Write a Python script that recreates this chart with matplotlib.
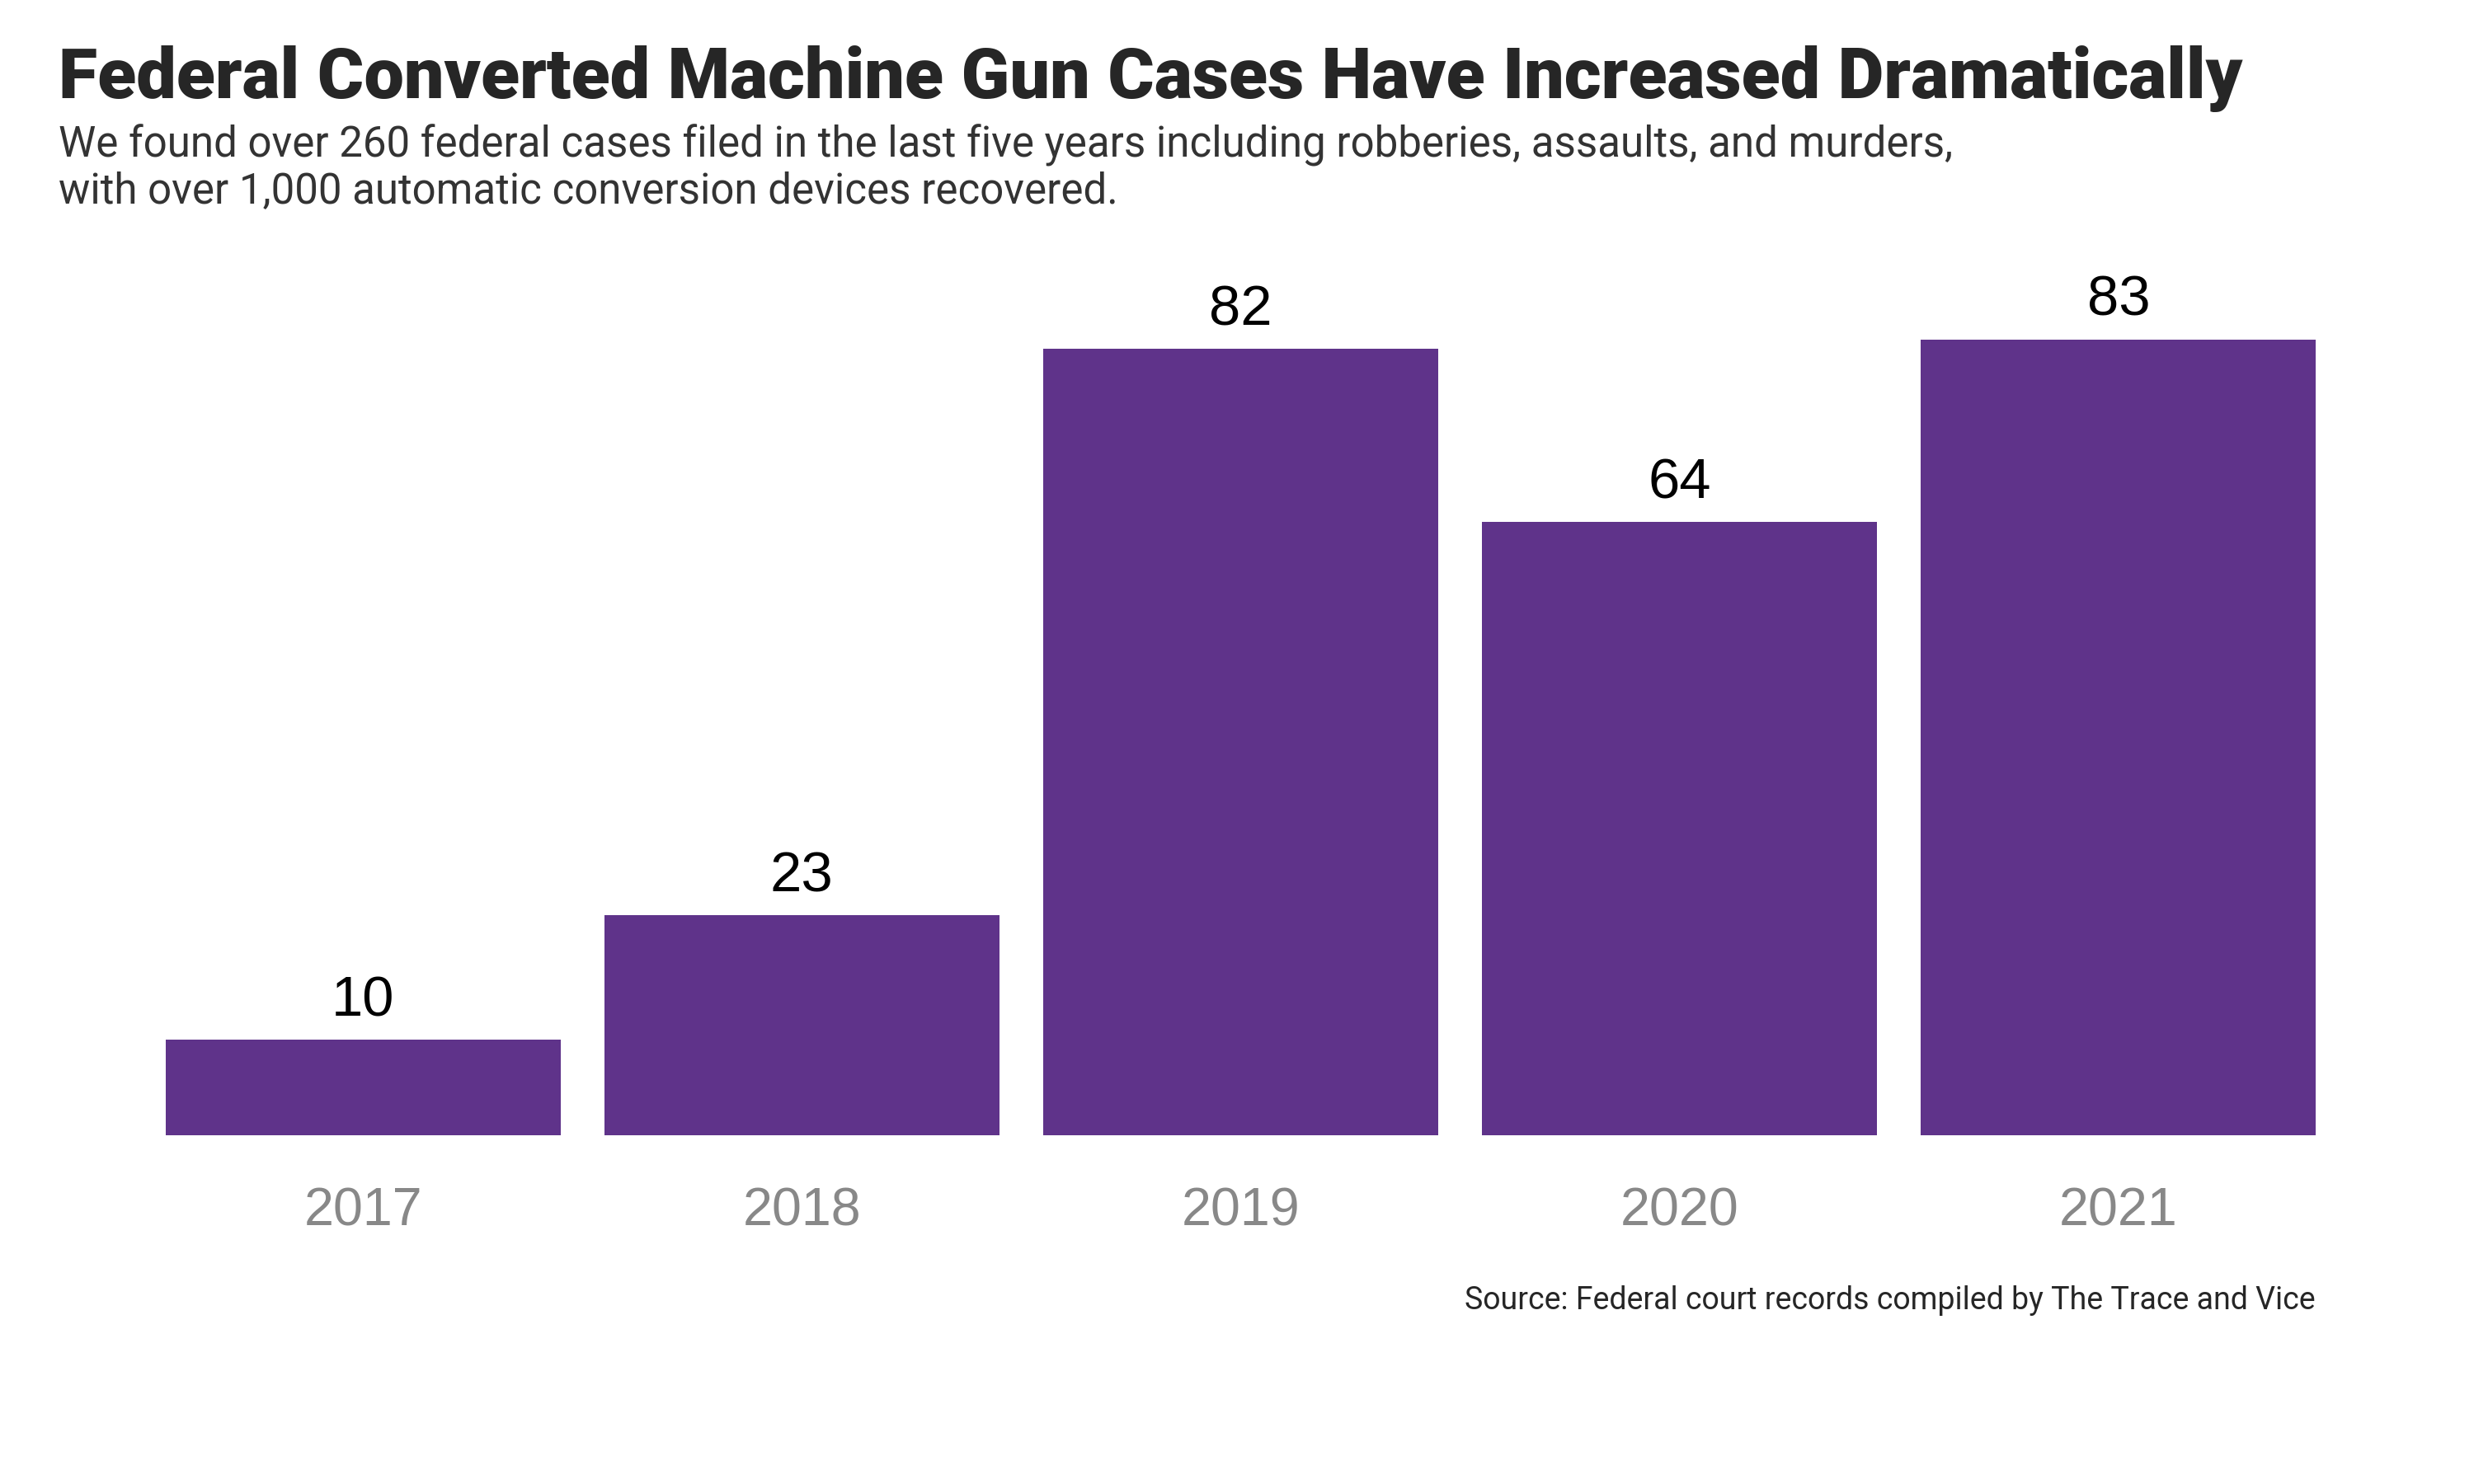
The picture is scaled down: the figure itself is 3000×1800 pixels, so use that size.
import matplotlib
matplotlib.use("Agg")
import matplotlib.pyplot as plt

years = ["2017", "2018", "2019", "2020", "2021"]
cases = [10, 23, 82, 64, 83]

title = "Federal Converted Machine Gun Cases Have Increased Dramatically"
subtitle_lines = [
    "We found over 260 federal cases filed in the last five years including robberies, assaults, and murders,",
    "with over 1,000 automatic conversion devices recovered.",
]
source = "Source: Federal court records compiled by The Trace and Vice"

fig = plt.figure(figsize=(10, 6), dpi=300)
ax = fig.add_axes([0.058, 0.2349, 0.887, 0.5817])

x = range(len(years))
bars = ax.bar(x, cases, width=0.9, color="#5f338a")

# value labels above bars
for b, v in zip(bars, cases):
    ax.annotate(str(v), (b.get_x() + b.get_width() / 2, b.get_height()),
                xytext=(0, 3.5), textcoords="offset points",
                ha="center", va="bottom", fontsize=16.5,
                family="Liberation Sans", color="black")

ax.set_xlim(-0.5, len(years) - 0.5)
ax.set_ylim(0, 90)
ax.set_xticks(list(x))
ax.set_xticklabels(years, fontsize=15.5, family="Liberation Sans", color="#888888")
ax.tick_params(axis="x", length=0, pad=15)
ax.set_yticks([])
for s in ax.spines.values():
    s.set_visible(False)

fig.text(0.0236, 1 - 119 / 1800, title, fontsize=20.7, fontweight="black",
         family="Roboto", color="#262626", ha="left", va="baseline")
for i, line in enumerate(subtitle_lines):
    fig.text(0.0236, 1 - (191 + 55 * i) / 1800, line, fontsize=12.25, family="Roboto",
             color="#333333", ha="left", va="baseline")
fig.text(2808 / 3000, 1 - 1588 / 1800, source, fontsize=9.0, family="Roboto",
         color="#262626", ha="right", va="baseline")

fig.savefig("out.png", dpi=300)
